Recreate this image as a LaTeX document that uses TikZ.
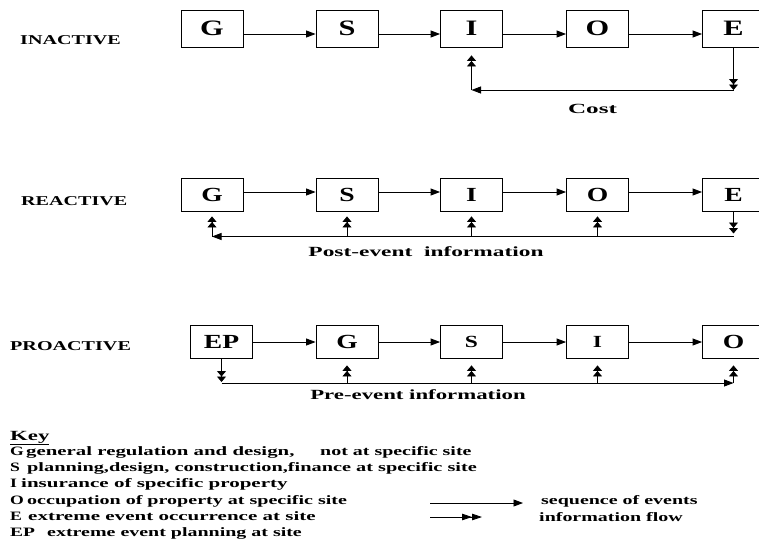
\documentclass[tikz,border=0pt]{standalone}
\usepackage{fontspec}
\setmainfont{Liberation Serif}[FakeStretch=1.38]
\usetikzlibrary{arrows.meta}
\newcommand\hsc[2]{\scalebox{#1}[1]{#2}}
\begin{document}
\begin{tikzpicture}[x=1pt,y=-1pt,
  box/.style={draw, line width=0.85pt, minimum width=62pt, inner sep=0pt, anchor=center},
  boxA/.style={box, minimum height=37pt, font=\fontsize{22}{22}\selectfont\bfseries},
  boxB/.style={box, minimum height=33pt, font=\fontsize{20}{20}\selectfont\bfseries},
  boxC/.style={box, minimum height=33pt, font=\fontsize{20}{20}\selectfont\bfseries},
  boxCs/.style={box, minimum height=33pt, font=\fontsize{17}{17}\selectfont\bfseries},
  rowlabel/.style={anchor=west, inner sep=0pt, font=\fontsize{13.5}{14}\selectfont\bfseries},
  flowlabel/.style={inner sep=0pt, font=\fontsize{14}{15}\selectfont\bfseries},
  keytext/.style={anchor=base west, inner sep=0pt, font=\fontsize{12.8}{13}\selectfont\bfseries},
  seq/.style={line width=0.85pt, -{Triangle[length=9.5pt,width=7pt]}},
  info/.style={line width=0.85pt, -{Triangle[length=5.5pt,width=9pt,sep=0pt]Triangle[length=5.5pt,width=9pt]}},
  infoL/.style={line width=0.85pt, -{Triangle[length=10pt,width=6.5pt,sep=0pt]Triangle[length=10pt,width=6.5pt]}}
]
\useasboundingbox (0,0) rectangle (759,543);
\clip (0,0) rectangle (759,543);

% ---------- INACTIVE ----------
\node[rowlabel] (lab1) at (20,40.5) {\hsc{1.08}{INACTIVE}};
\node[boxA] (G1) at (212,28.5) {G};
\node[boxA] (S1) at (347,28.5) {S};
\node[boxA] (I1) at (471.5,28.5) {I};
\node[boxA] (O1) at (597.5,28.5) {O};
\node[boxA] (E1) at (733.5,28.5) {E};
\draw[seq] ([yshift=-5.5pt]G1.east) -- ([yshift=-5.5pt]S1.west);
\draw[seq] ([yshift=-5.5pt]S1.east) -- ([yshift=-5.5pt]I1.west);
\draw[seq] ([yshift=-5.5pt]I1.east) -- ([yshift=-5.5pt]O1.west);
\draw[seq] ([yshift=-5.5pt]O1.east) -- ([yshift=-5.5pt]E1.west);
\coordinate (c1e) at (733.5,90);
\coordinate (c1i) at (471.5,90);
\draw[info] (E1.south) -- (c1e);
\draw[seq] (c1e) -- (c1i);
\draw[info] (c1i) -- ([yshift=-8pt]I1.south);
\node[flowlabel] (cost) at (592.5,109) {\hsc{1.3}{Cost}};

% ---------- REACTIVE ----------
\node[rowlabel] (lab2) at (21,201.5) {\hsc{1.08}{REACTIVE}};
\node[boxB] (G2) at (212,194.5) {G};
\node[boxB] (S2) at (347,194.5) {S};
\node[boxB] (I2) at (471.5,194.5) {I};
\node[boxB] (O2) at (597.5,194.5) {O};
\node[boxB] (E2) at (733.5,194.5) {E};
\draw[seq] ([yshift=2.5pt]G2.east) -- ([yshift=2.5pt]S2.west);
\draw[seq] ([yshift=2.5pt]S2.east) -- ([yshift=2.5pt]I2.west);
\draw[seq] ([yshift=2.5pt]I2.east) -- ([yshift=2.5pt]O2.west);
\draw[seq] ([yshift=2.5pt]O2.east) -- ([yshift=2.5pt]E2.west);
\coordinate (c2e) at (733.5,236.5);
\coordinate (c2g) at (212,236.5);
\draw[info] (E2.south) -- ([yshift=3pt]c2e);
\draw[seq] (c2e) -- (c2g);
\draw[info] (c2g) -- ([yshift=-5pt]G2.south);
\draw[info] (S2.south |- c2g) -- ([yshift=-5pt]S2.south);
\draw[info] (I2.south |- c2g) -- ([yshift=-5pt]I2.south);
\draw[info] (O2.south |- c2g) -- ([yshift=-5pt]O2.south);
\node[flowlabel] (post) at (426,252) {\hsc{1.21}{Post-event\ \ information}};

% ---------- PROACTIVE ----------
\node[rowlabel] (lab3) at (10,346.5) {\hsc{1.08}{PROACTIVE}};
\node[boxC] (EP3) at (221.5,341.5) {EP};
\node[boxC] (G3) at (347,341.5) {G};
\node[boxCs] (S3) at (471.5,341.5) {S};
\node[boxCs] (I3) at (597.5,341.5) {I};
\node[boxC] (O3) at (733.5,341.5) {O};
\draw[seq] ([yshift=-0.5pt]EP3.east) -- ([yshift=-0.5pt]G3.west);
\draw[seq] ([yshift=-0.5pt]G3.east) -- ([yshift=-0.5pt]S3.west);
\draw[seq] ([yshift=-0.5pt]S3.east) -- ([yshift=-0.5pt]I3.west);
\draw[seq] ([yshift=-0.5pt]I3.east) -- ([yshift=-0.5pt]O3.west);
\coordinate (c3p) at (221.5,383);
\coordinate (c3o) at (733.5,383);
\draw[info] (EP3.south) -- ([yshift=1pt]c3p);
\draw[seq] (c3p) -- (c3o);
\draw[info] (c3o) -- ([yshift=-7pt]O3.south);
\draw[info] (G3.south |- c3p) -- ([yshift=-7pt]G3.south);
\draw[info] (S3.south |- c3p) -- ([yshift=-7pt]S3.south);
\draw[info] (I3.south |- c3p) -- ([yshift=-7pt]I3.south);
\node[flowlabel] (pre) at (418,395) {\hsc{1.18}{Pre-event information}};

% ---------- KEY ----------
\node[keytext, font=\fontsize{14}{14}\selectfont\bfseries] (key) at (10,440) {\underline{\hsc{1.18}{Key}}};
\node[keytext] (kG) at (10,455) {G};
\node[keytext] (kGd) at (26,455) {\hsc{1.18}{general regulation and design,}};
\node[keytext] (kGe) at (320,455) {\hsc{1.13}{not at specific site}};
\node[keytext] (kS) at (10,471.5) {S};
\node[keytext] (kSd) at (27,471.5) {\hsc{1.15}{planning,design, construction,finance at specific site}};
\node[keytext] (kI) at (10,487.5) {I};
\node[keytext] (kId) at (21,487.5) {\hsc{1.19}{insurance of specific property}};
\node[keytext] (kO) at (10,504) {O};
\node[keytext] (kOd) at (27,504) {\hsc{1.135}{occupation of property at specific site}};
\node[keytext] (kE) at (10,520) {E};
\node[keytext] (kEd) at (28,520) {\hsc{1.19}{extreme event occurrence at site}};
\node[keytext] (kEP) at (10,536) {\hsc{1.1}{EP}};
\node[keytext] (kEPd) at (47,536) {\hsc{1.13}{extreme event planning at site}};

\coordinate (ls1) at (430,503);
\coordinate (le1) at (523,503);
\coordinate (ls2) at (430,517);
\coordinate (le2) at (482,517);
\draw[seq] (ls1) -- (le1);
\draw[infoL] (ls2) -- (le2);
\node[keytext] (kseq) at (541,504) {\hsc{1.13}{sequence of events}};
\node[keytext] (kinf) at (539,521) {\hsc{1.13}{information flow}};
\end{tikzpicture}
\end{document}
